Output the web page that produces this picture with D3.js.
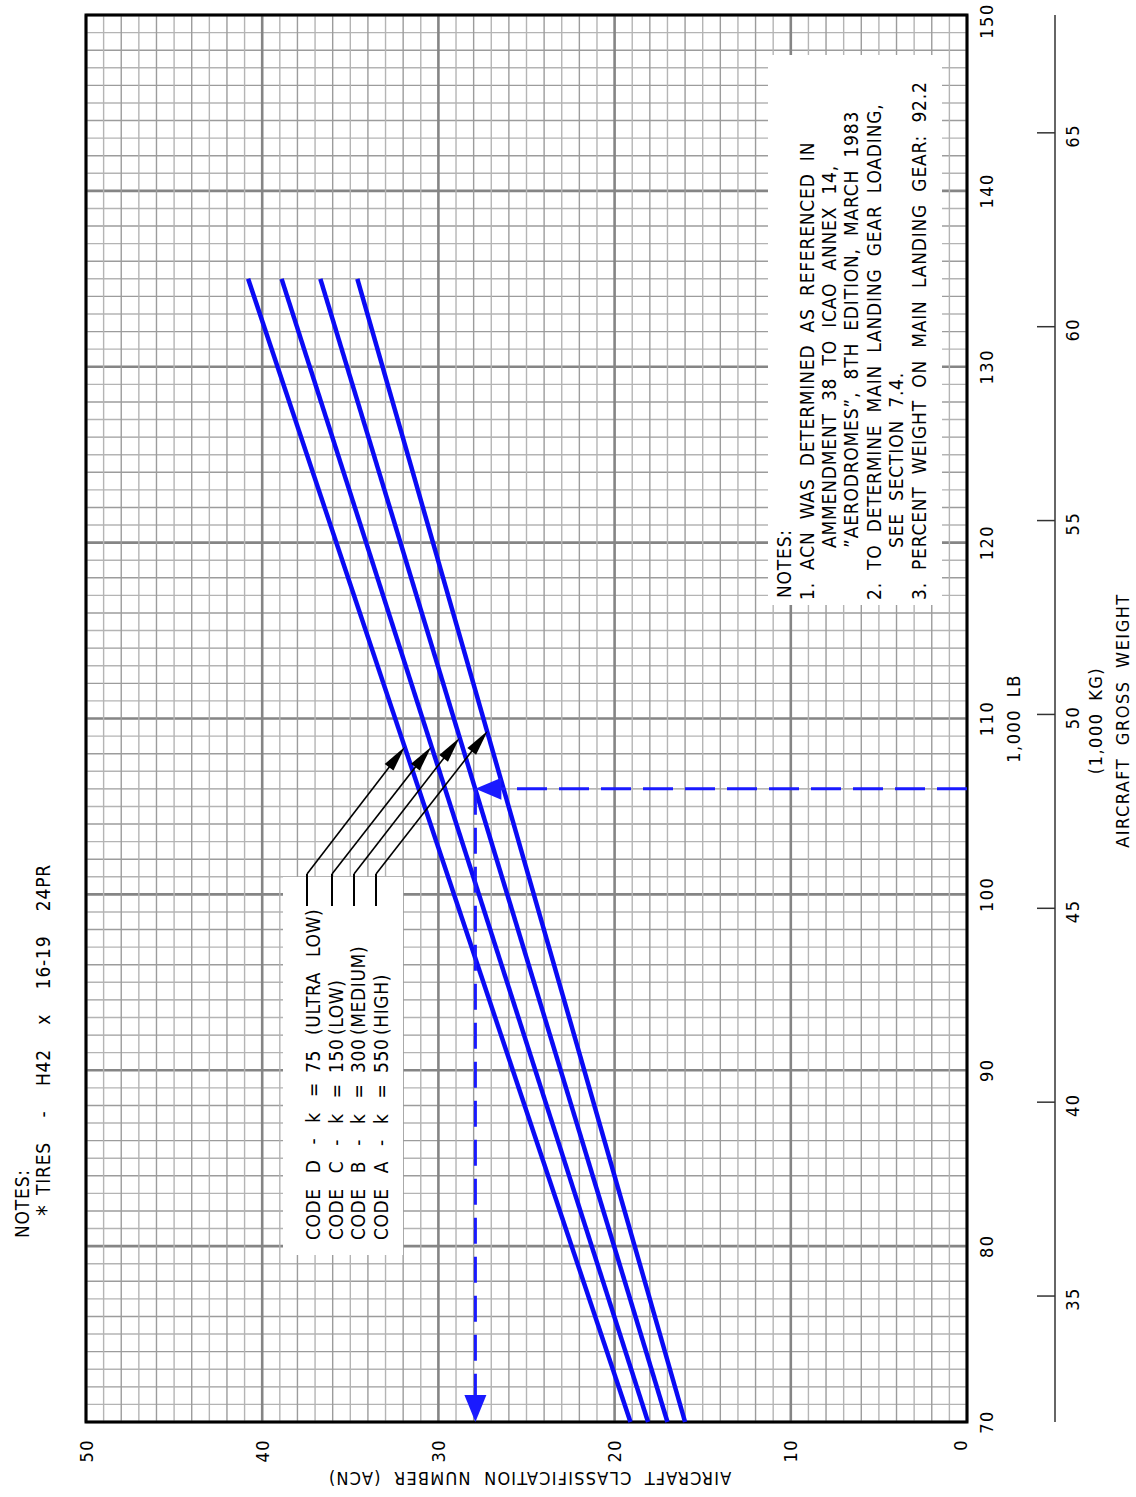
<!DOCTYPE html>
<html><head><meta charset="utf-8">
<script src="https://cdn.jsdelivr.net/npm/d3@7"></script>
<style>
html,body{margin:0;padding:0;background:#fff;}
svg{display:block;}
text{font-family:"Liberation Sans Narrow","DejaVu Sans Condensed","Liberation Sans",sans-serif;fill:#000;white-space:pre;}
</style></head><body>
<svg id="chart" width="1136" height="1497"></svg>
<script>
// ---------- data ----------
const weightTicksLb = [70, 80, 90, 100, 110, 120, 130, 140, 150];
const weightTicksKg = [35, 40, 45, 50, 55, 60, 65];
const acnTicks = [0, 10, 20, 30, 40, 50];
const codes = ["D", "C", "B", "A"];
const kValues = [75, 150, 300, 550];
const subgrades = ["(ULTRA LOW)", "(LOW)", "(MEDIUM)", "(HIGH)"];
const lineWeights = [70, 135];           // 1,000 lb
const acnCodeD = [19.1, 40.8];
const acnCodeC = [18.1, 38.9];
const acnCodeB = [17.0, 36.7];
const acnCodeA = [16.0, 34.6];
const pointerWeights = [108.4, 108.4, 108.9, 109.3];
const pointerAcn = [31.9, 30.4, 28.8, 27.2];
const exampleWeight = 106;
const exampleAcn = 27.9;
const tireNote = ["NOTES:", "*", "TIRES  -  H42  x  16-19  24PR"];
const noteLines = [
  "NOTES:",
  "1.", "ACN WAS DETERMINED AS REFERENCED IN",
  "AMMENDMENT 38 TO ICAO ANNEX 14,",
  "\u201DAERODROMES\u201D, 8TH EDITION, MARCH 1983",
  "2.", "TO DETERMINE MAIN LANDING GEAR LOADING,",
  "SEE SECTION 7.4.",
  "3.", "PERCENT WEIGHT ON MAIN LANDING GEAR: 92.2"
];
const axisTitles = ["AIRCRAFT CLASSIFICATION NUMBER (ACN)", "1,000 LB", "(1,000 KG)", "AIRCRAFT GROSS WEIGHT"];
const LB_PER_KG = 2.20462;

const series = [acnCodeD, acnCodeC, acnCodeB, acnCodeA].map((vals, i) => ({
  code: codes[i], pts: lineWeights.map((w, j) => ({w, acn: vals[j]}))
}));

// ---------- layout (local landscape frame, rotated -90deg) ----------
const svg = d3.select("#chart");
const g = svg.append("g").attr("transform", "translate(0,1497) rotate(-90)");
const x = d3.scaleLinear().domain([70, 150]).range([75, 1482]);   // weight (local horizontal)
const y = d3.scaleLinear().domain([0, 50]).range([967, 86]);      // ACN (local vertical)

// grid
const grid = g.append("g");
x.ticks(80).forEach(t => {
  const major = Math.round(t) % 10 === 0;
  grid.append("line").attr("x1", x(t)).attr("x2", x(t)).attr("y1", y(0)).attr("y2", y(50))
    .attr("stroke", major ? "#858585" : (Math.round(t) % 2 ? "#b4b4b4" : "#9c9c9c"))
    .attr("stroke-width", major ? 2.6 : 1.4);
});
y.ticks(50).forEach(t => {
  const major = Math.round(t) % 10 === 0;
  grid.append("line").attr("x1", x(70)).attr("x2", x(150)).attr("y1", y(t)).attr("y2", y(t))
    .attr("stroke", major ? "#858585" : (Math.round(t) % 2 ? "#b4b4b4" : "#9c9c9c"))
    .attr("stroke-width", major ? 2.6 : 1.4);
});

// white boxes (legend + notes)
g.append("rect").attr("x", 242).attr("y", 283).attr("width", 378).attr("height", 120).attr("fill", "#fff");
g.append("rect").attr("x", 892).attr("y", 768).attr("width", 550).attr("height", 174).attr("fill", "#fff");

// frame
g.append("rect").attr("x", x(70)).attr("y", y(50)).attr("width", x(150) - x(70)).attr("height", y(0) - y(50))
  .attr("fill", "none").attr("stroke", "#000").attr("stroke-width", 3);

// ACN lines
const line = d3.line().x(d => x(d.w)).y(d => y(d.acn));
g.selectAll("path.acn").data(series).join("path").attr("class", "acn")
  .attr("d", d => line(d.pts)).attr("fill", "none").attr("stroke", "#0a0af5").attr("stroke-width", 4.5);

// arrowhead helper
function arrowHead(par, tipU, tipV, fromU, fromV, len, half, color) {
  const dx = tipU - fromU, dy = tipV - fromV, L = Math.hypot(dx, dy);
  const ux = dx / L, uy = dy / L;
  const bu = tipU - ux * len, bv = tipV - uy * len;
  par.append("path")
    .attr("d", `M${tipU},${tipV}L${bu - uy * half},${bv + ux * half}L${bu + uy * half},${bv - ux * half}Z`)
    .attr("fill", color);
}

// example dashed path
const ex = g.append("g");
const exU = x(exampleWeight), exV = y(exampleAcn);
ex.append("line").attr("x1", exU).attr("x2", exU).attr("y1", y(0)).attr("y2", exV + 20)
  .attr("stroke", "#1a1aff").attr("stroke-width", 3).attr("stroke-dasharray", "30,12");
arrowHead(ex, exU, exV, exU, y(0), 26, 11, "#1a1aff");
ex.append("line").attr("x1", exU).attr("x2", x(70) + 22).attr("y1", exV).attr("y2", exV)
  .attr("stroke", "#1a1aff").attr("stroke-width", 3).attr("stroke-dasharray", "26,13");
arrowHead(ex, x(70), exV, exU, exV, 27, 11, "#1a1aff");

// legend text
const leg = g.append("g").style("font-size", "19px").style("letter-spacing", "0.6px").style("word-spacing", "9px");
const rowV = [320, 343, 365, 388];
codes.forEach((c, i) => {
  leg.append("text").attr("x", 257).attr("y", rowV[i]).text(`CODE ${c} - k =`);
  leg.append("text").attr("x", 424).attr("y", rowV[i]).text(kValues[i]);
  leg.append("text").attr("x", 462).attr("y", rowV[i]).text(subgrades[i]);
});

// leader lines with arrows
const leaderV = [307, 332, 354, 376];
const lead = g.append("g");
pointerWeights.forEach((w, i) => {
  const tu = x(w), tv = y(pointerAcn[i]);
  const su = 623, sv = leaderV[i];
  lead.append("line").attr("x1", 591).attr("x2", su).attr("y1", sv).attr("y2", sv)
    .attr("stroke", "#000").attr("stroke-width", 2);
  const L = Math.hypot(tu - su, tv - sv);
  lead.append("line").attr("x1", su).attr("y1", sv)
    .attr("x2", tu - (tu - su) / L * 20).attr("y2", tv - (tv - sv) / L * 20)
    .attr("stroke", "#000").attr("stroke-width", 1.6);
  arrowHead(lead, tu, tv, su, sv, 26, 5.5, "#000");
});

// notes box text
const nt = g.append("g").style("font-size", "19px").style("letter-spacing", "0.8px").style("word-spacing", "6px");
const notePos = [
  [899, 791], [897, 814], [927, 814], [949, 836], [949, 858],
  [897, 881], [927, 881], [949, 903], [897, 926], [927, 926]
];
noteLines.forEach((t, i) => nt.append("text").attr("x", notePos[i][0]).attr("y", notePos[i][1]).text(t));

// top-left notes
const tl = g.append("g").style("font-size", "19px").style("letter-spacing", "0.8px").style("word-spacing", "6px");
tl.append("text").attr("x", 259).attr("y", 29).text(tireNote[0]);
tl.append("text").attr("x", 281).attr("y", 54).style("font-size", "24px").text(tireNote[1]);
tl.append("text").attr("x", 302).attr("y", 50).text(tireNote[2]);

// ACN axis labels
const ax = g.append("g").style("font-size", "18px").style("letter-spacing", "1.5px");
acnTicks.forEach(t => {
  ax.append("text").attr("x", 58).attr("y", y(t) + (t === 0 ? -7 : 0))
    .attr("text-anchor", "end").attr("dominant-baseline", "central").text(t);
});
ax.append("text").attr("transform", `translate(25,${(y(0) + y(50)) / 2 + 3}) rotate(-90)`)
  .attr("text-anchor", "middle").style("letter-spacing", "1.2px").style("word-spacing", "6px").text(axisTitles[0]);

// weight axis (lb)
weightTicksLb.forEach(t => {
  ax.append("text").attr("x", x(t) + (t === 150 ? -6 : 0)).attr("y", 993)
    .attr("text-anchor", "middle").text(t);
});
ax.append("text").attr("x", x(110)).attr("y", 1020).attr("text-anchor", "middle").style("word-spacing", "5px").text(axisTitles[1]);

// kg axis
const kg = g.append("g");
kg.append("line").attr("x1", x(70)).attr("x2", x(150)).attr("y1", 1055).attr("y2", 1055)
  .attr("stroke", "#333").attr("stroke-width", 1.5);
weightTicksKg.forEach(t => {
  const u = x(t * LB_PER_KG);
  kg.append("line").attr("x1", u).attr("x2", u).attr("y1", 1037).attr("y2", 1055)
    .attr("stroke", "#333").attr("stroke-width", 1.5);
  ax.append("text").attr("x", u - 3).attr("y", 1079).attr("text-anchor", "middle").text(t);
});
ax.append("text").attr("x", x(110) - 2).attr("y", 1102).attr("text-anchor", "middle").style("word-spacing", "5px").text(axisTitles[2]);
ax.append("text").attr("x", x(110) - 2).attr("y", 1129).attr("text-anchor", "middle").style("word-spacing", "6px").text(axisTitles[3]);
</script>
</body></html>
